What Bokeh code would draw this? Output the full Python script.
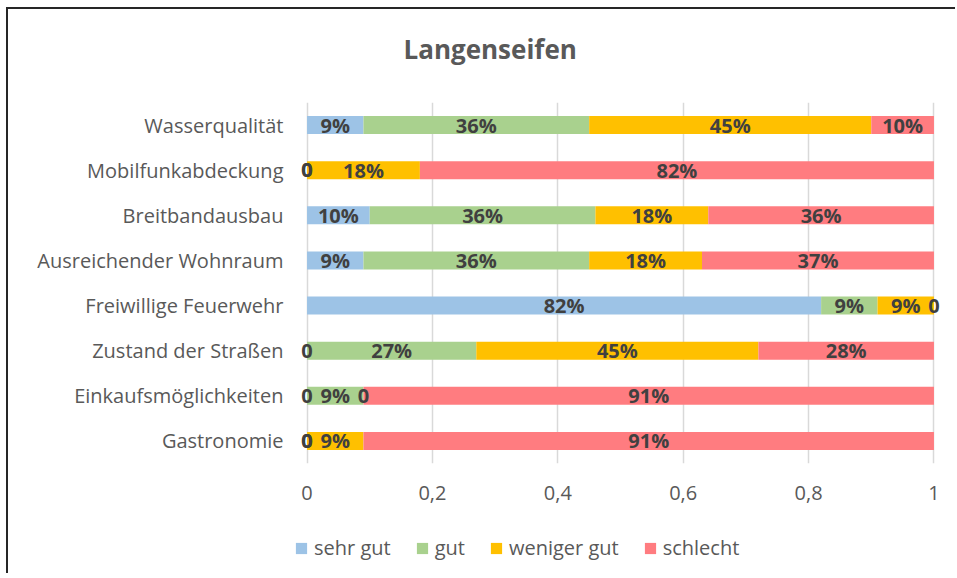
from bokeh.plotting import figure
from bokeh.layouts import column
from bokeh.models import ColumnDataSource, LabelSet, Range1d, FactorRange, FixedTicker, CustomJSTickFormatter, Legend, Title
from bokeh.core.properties import value
from bokeh.embed import file_html
from bokeh.resources import INLINE

categories = ["Gastronomie", "Einkaufsmöglichkeiten", "Zustand der Straßen", "Freiwillige Feuerwehr",
              "Ausreichender Wohnraum", "Breitbandausbau", "Mobilfunkabdeckung", "Wasserqualität"]
series = ["sehr gut", "gut", "weniger gut", "schlecht"]
sehr_gut    = [0.00, 0.00, 0.00, 0.82, 0.09, 0.10, 0.00, 0.09]
gut         = [0.00, 0.09, 0.27, 0.09, 0.36, 0.36, 0.00, 0.36]
weniger_gut = [0.09, 0.00, 0.45, 0.09, 0.18, 0.18, 0.18, 0.45]
schlecht    = [0.91, 0.91, 0.28, 0.00, 0.37, 0.36, 0.82, 0.10]
colors = ["#9DC3E6", "#A9D18E", "#FFC000", "#FF7C80"]
x_ticks = [0, 0.2, 0.4, 0.6, 0.8, 1]
title_text = "Langenseifen"

FONT = "Open Sans"

data = {"cat": categories, "sehr gut": sehr_gut, "gut": gut, "weniger gut": weniger_gut, "schlecht": schlecht}
source = ColumnDataSource(data)

main_title = Title(text=title_text, align="left", offset=109, text_font=FONT, text_font_size="26px",
                   text_font_style="bold", text_color="#595959", standoff=10)
p = figure(frame_width=652, frame_height=361, y_range=FactorRange(factors=categories),
           x_range=Range1d(-0.02, 1.02), title=main_title,
           output_backend="svg", toolbar_location=None,
           min_border_left=286, min_border_right=9, min_border_top=93, min_border_bottom=60)
# spacer between the title and the plot area
p.add_layout(Title(text=" ", text_font_size="1px", standoff=28), "above")

renderers = p.hbar_stack(series, y="cat", height=0.4, color=colors, source=source, line_width=0)

# data labels
lx, ly, lt = [], [], []
for i, c in enumerate(categories):
    left = 0.0
    for s in series:
        v = data[s][i]
        lx.append(left + v / 2)
        ly.append(c)
        lt.append(f"{round(v * 100)}%" if v > 0 else "0")
        left += v
lsrc = ColumnDataSource(dict(x=lx, y=ly, t=lt))
p.add_layout(LabelSet(x="x", y="y", text="t", source=lsrc, text_align="center", text_baseline="middle",
                      text_font=value(FONT), text_font_size="20px", text_font_style="bold",
                      text_color="#404040"))

p.xgrid.ticker = FixedTicker(ticks=x_ticks)
p.xgrid.grid_line_color = "#D9D9D9"
p.xgrid.grid_line_width = 1.5
p.ygrid.grid_line_color = None
p.outline_line_color = None

p.xaxis.ticker = FixedTicker(ticks=x_ticks)
p.xaxis.formatter = CustomJSTickFormatter(code="return tick.toFixed(1).replace('.', ',').replace(/,0$/, '');")
p.xaxis.axis_line_color = None
p.xaxis.major_tick_line_color = None
p.xaxis.minor_tick_line_color = None
p.xaxis.major_label_standoff = 16
p.xaxis.major_label_text_font = FONT
p.xaxis.major_label_text_font_size = "20px"
p.xaxis.major_label_text_color = "#595959"

p.yaxis.axis_line_color = None
p.yaxis.major_tick_line_color = None
p.yaxis.major_label_standoff = 5
p.yaxis.major_label_text_font = FONT
p.yaxis.major_label_text_font_size = "20px"
p.yaxis.major_label_text_color = "#595959"

# legend strip: same series as zero-height bars, legend placed inside this strip's frame
pl = figure(width=947, height=50, y_range=FactorRange(factors=categories), x_range=Range1d(50, 51),
            output_backend="svg", toolbar_location=None, x_axis_location=None, y_axis_location=None,
            min_border=0, outline_line_color=None)
pl.grid.visible = False
leg_renderers = pl.hbar_stack(series, y="cat", height=0, color=colors, source=source, line_width=0)
legend = Legend(items=[(s, [r]) for s, r in zip(series, leg_renderers)], orientation="horizontal",
                location=(0, 12), label_text_font=FONT, label_text_font_size="20px",
                label_text_color="#595959", glyph_width=14, glyph_height=14, spacing=24,
                border_line_color=None, background_fill_alpha=0, label_standoff=6, padding=0, margin=0)
pl.add_layout(legend, "center")

layout = column(p, pl, spacing=0,
                styles={"border-left": "2px solid #262626", "border-top": "2px solid #262626",
                        "margin-left": "6px", "margin-top": "7px"})

open("out.html", "w").write(file_html(layout, INLINE))
